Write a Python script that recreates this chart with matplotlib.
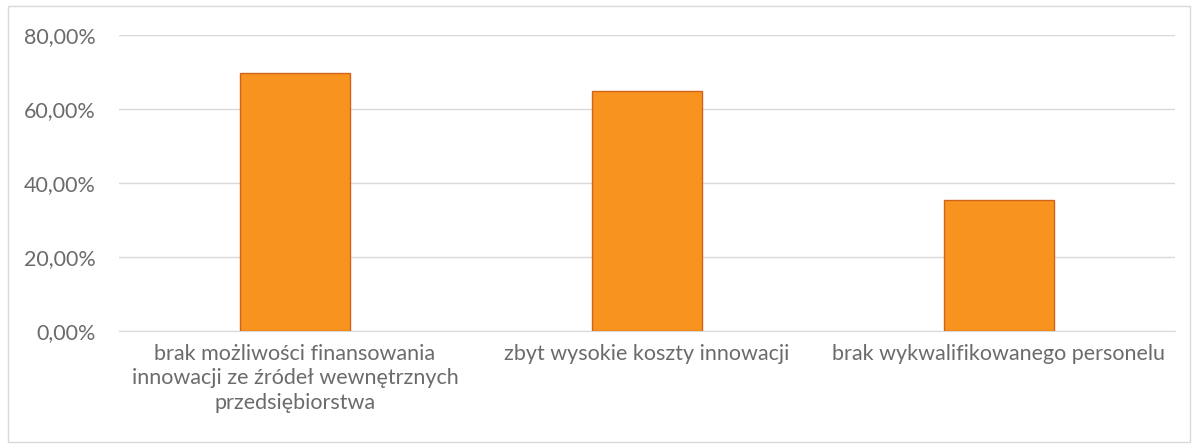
import numpy as np
import matplotlib
matplotlib.use("Agg")
import matplotlib.pyplot as plt
from matplotlib.patches import Rectangle
from matplotlib.ticker import FuncFormatter

categories = [
    "brak możliwości finansowania\ninnowacji ze źródeł wewnętrznych\nprzedsiębiorstwa",
    "zbyt wysokie koszty innowacji",
    "brak wykwalifikowanego personelu",
]
values = [69.7, 64.9, 35.4]
yticks = [0, 20, 40, 60, 80]

plt.rcParams['font.family'] = ['Lato', 'DejaVu Sans']

fig = plt.figure(figsize=(11.98, 4.48), dpi=100)
fig.patches.append(Rectangle((8 / 1198, 6 / 448), 1182 / 1198, 436 / 448,
                             transform=fig.transFigure, fill=False,
                             edgecolor='#D9D9D9', linewidth=1.0))
ax = fig.add_axes([119 / 1198, 117 / 448, 1056 / 1198, 296 / 448])

x = np.arange(len(categories))
ax.bar(x, values, width=0.315, color='#F7931E', edgecolor='#D0641A',
       linewidth=1.0, zorder=3)

ax.set_xlim(-0.5, len(categories) - 0.5)
ax.set_ylim(0, 80)
ax.set_yticks(yticks)
ax.yaxis.set_major_formatter(FuncFormatter(lambda v, p: f"{v:.2f}%".replace(".", ",")))
ax.grid(axis='y', color='#D9D9D9', linewidth=1.0, zorder=0)
for s in ['top', 'right', 'left']:
    ax.spines[s].set_visible(False)
ax.spines['bottom'].set_color('#D9D9D9')
ax.tick_params(axis='x', length=0, labelsize=15.5, colors='#6B6B6B', pad=9)
ax.tick_params(axis='y', length=0, labelsize=15.5, colors='#6B6B6B', pad=17)
ax.set_xticks(x)
ax.set_xticklabels(categories, linespacing=1.3)

fig.savefig("out.png", dpi=100)
